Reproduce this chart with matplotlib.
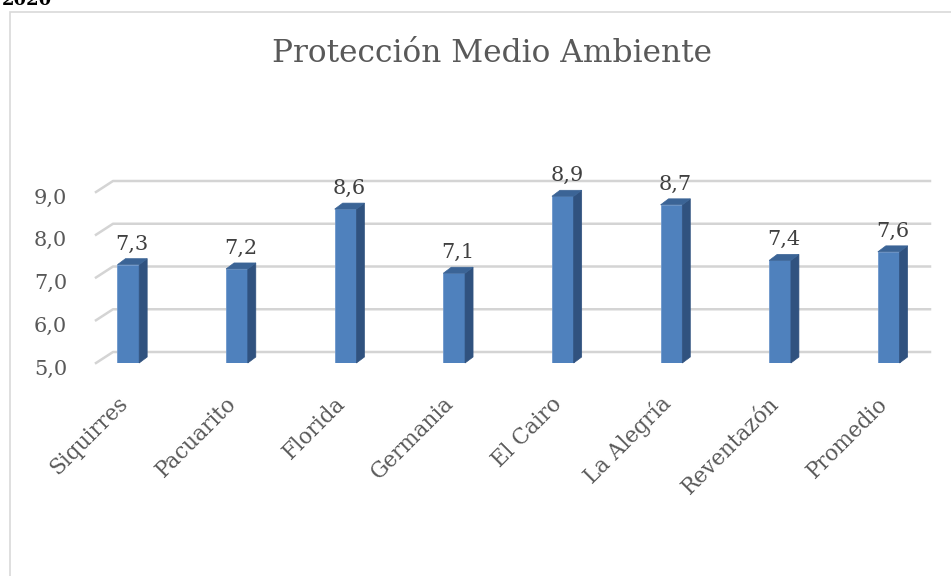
import matplotlib.pyplot as plt
from matplotlib.patches import Polygon, Rectangle
import matplotlib.transforms as mtransforms

# datos del grafico
categorias = ["Siquirres", "Pacuarito", "Florida", "Germania", "El Cairo",
              "La Alegría", "Reventazón", "Promedio"]
valores = [7.3, 7.2, 8.6, 7.1, 8.9, 8.7, 7.4, 7.6]
y_ticks = [5.0, 6.0, 7.0, 8.0, 9.0]
titulo = "Protección Medio Ambiente"

W, H = 951, 576
fig = plt.figure(figsize=(W / 100, H / 100), dpi=100)
plt.rcParams['font.family'] = ['DejaVu Serif']
gris = '#595959'

# marco del grafico (cortado a la derecha y abajo)
fig.add_artist(Rectangle((10 / W, -0.1), 1.0, (H - 12) / H + 0.1,
                         transform=fig.transFigure, fill=False,
                         edgecolor='#d9d9d9', linewidth=1.2))
# texto cortado arriba a la izquierda (como en el original)
fig.text(2 / W, 1 - 5 / H, "2020", fontsize=13, fontweight='bold',
         color='black', va='baseline', ha='left')

# plano frontal del area de trazado (pixeles)
x0, x1 = 74, 943
yb, yt = 363, 192
ax = fig.add_axes([x0 / W, (H - yb) / H, (x1 - x0) / W, (yb - yt) / H])
ax.set_xlim(-0.5, len(categorias) - 0.5)
ax.set_ylim(5, 9)
for s in ax.spines.values():
    s.set_visible(False)
ax.patch.set_alpha(0)

px_x = (x1 - x0) / len(categorias)   # pixeles por unidad x
px_y = (yb - yt) / 4.0               # pixeles por unidad y

def dx(p):
    return p / px_x

def dy(p):
    return p / px_y

# pared del fondo con lineas de division
prof_x, prof_y = 17, 11
x_izq = dx(96 - x0) - 0.5
x_der = dx(930 - x0) - 0.5
for v in y_ticks:
    ax.plot([x_izq, x_izq + dx(prof_x), x_der],
            [v, v + dy(prof_y), v + dy(prof_y)],
            color='#d4d4d4', lw=1.8, clip_on=False, zorder=1)

# barras 3D
ancho = 0.2
bx, by = dx(8), dy(6)
frente = '#4f81bd'
lado = '#30527f'
tapa = '#3b6496'
xs = list(range(len(categorias)))
ax.bar(xs, [v - 5 for v in valores], bottom=5, width=ancho, color=frente,
       edgecolor='#6d97cc', linewidth=0.6, zorder=3)
for x, v in zip(xs, valores):
    r = x + ancho / 2
    l = x - ancho / 2
    ax.add_patch(Polygon([(r, 5), (r + bx, 5 + by), (r + bx, v + by), (r, v)],
                         closed=True, facecolor=lado, edgecolor=lado,
                         lw=0.5, zorder=3, clip_on=False))
    ax.add_patch(Polygon([(l, v), (l + bx, v + by), (r + bx, v + by), (r, v)],
                         closed=True, facecolor=tapa, edgecolor=tapa,
                         lw=0.5, zorder=3, clip_on=False))
    ax.annotate(f"{v:.1f}".replace('.', ','), (x, v), xytext=(4, 11),
                textcoords='offset pixels', ha='center', va='bottom',
                fontsize=15, color='#404040', annotation_clip=False)

# ejes
ax.set_yticks(y_ticks)
ax.set_yticklabels([f"{v:.1f}".replace('.', ',') for v in y_ticks],
                   fontsize=15, color=gris)
ax.tick_params(axis='y', length=0, pad=5)
off_y = mtransforms.ScaledTranslation(0, -4 / 100, fig.dpi_scale_trans)
for lab in ax.get_yticklabels():
    lab.set_transform(lab.get_transform() + off_y)

ax.set_xticks(xs)
ax.set_xticklabels(categorias, rotation=45, ha='right', va='center',
                   rotation_mode='anchor', fontsize=15.5, color=gris)
ax.tick_params(axis='x', length=0, pad=27)
off_x = mtransforms.ScaledTranslation(-4 / 100, 0, fig.dpi_scale_trans)
for lab in ax.get_xticklabels():
    lab.set_transform(lab.get_transform() + off_x)

fig.text(492 / W, 1 - 53 / H, titulo, ha='center', va='center',
         fontsize=22.5, color=gris)

fig.savefig("out.png", dpi=100)
